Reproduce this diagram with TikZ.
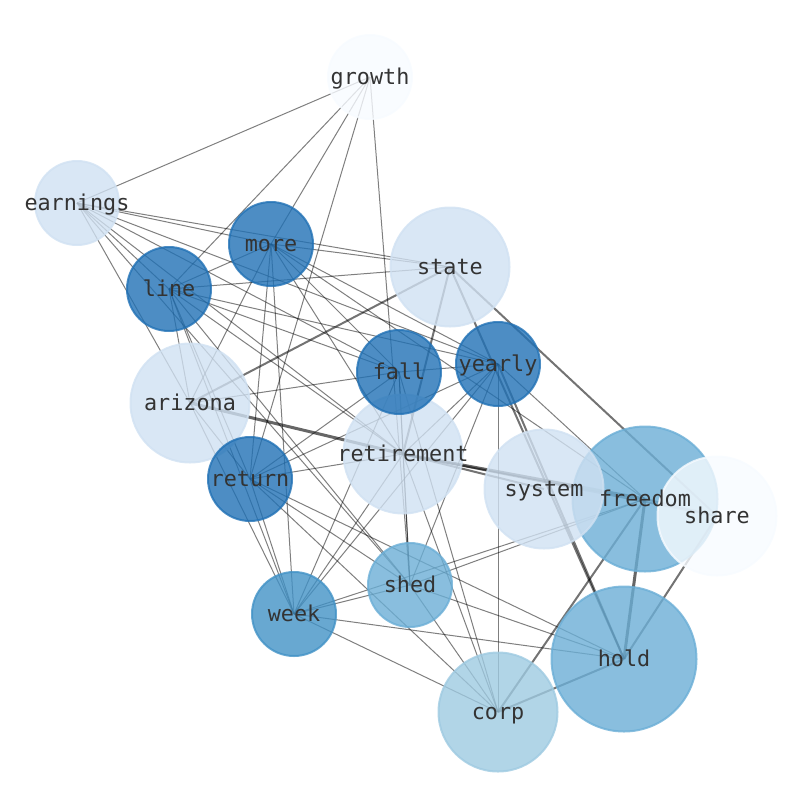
\documentclass[tikz,border=0pt]{standalone}
\usepackage{fontspec}
\setmonofont{DejaVu Sans Mono}
\pgfdeclarelayer{edges}
\pgfdeclarelayer{labels}
\pgfsetlayers{edges,main,labels}
\definecolor{cA}{HTML}{F7FBFF}
\definecolor{cB}{HTML}{D0E1F2}
\definecolor{cC}{HTML}{9ECAE1}
\definecolor{cD}{HTML}{6BAED6}
\definecolor{cE}{HTML}{4292C6}
\definecolor{cF}{HTML}{2171B5}
\definecolor{txt}{HTML}{333333}
\begin{document}
\begin{tikzpicture}[x=1pt,y=-1pt,
  wnode/.style={circle, inner sep=0pt, line width=2pt, fill opacity=0.8, draw opacity=0.8},
  rs/.style={wnode, minimum size=84pt},
  rm/.style={wnode, minimum size=119pt},
  rl/.style={wnode, minimum size=145pt},
  lbl/.style={inner sep=0pt, text=txt, text height=16pt, text depth=5pt, yshift=-2pt,
    font=\ttfamily\fontsize{21.8}{26}\selectfont},
  ed/.style={draw=black, draw opacity=0.5, line width=1pt},
  edb/.style={draw=black, draw opacity=0.55, line width=2pt},
  edc/.style={draw=black, draw opacity=0.6, line width=3pt}]
\useasboundingbox (0,0) rectangle (794,790);
% nodes (drawing order matters for overlaps)
\node[rl, fill=cD, draw=cD] (freedom) at (645,499) {};
\node[rl, fill=cD, draw=cD] (hold) at (624,659) {};
\node[rm, fill=cC, draw=cC] (corp) at (498,712) {};
\node[rm, fill=cB, draw=cB] (retirement) at (403,454) {};
\node[rm, fill=cB, draw=cB] (arizona) at (190,403) {};
\node[rm, fill=cB, draw=cB] (state) at (450,267) {};
\node[rm, fill=cB, draw=cB] (system) at (544,489) {};
\node[rm, fill=cA, draw=cA] (share) at (717,516) {};
\node[rs, fill=cA, draw=cA] (growth) at (370,77) {};
\node[rs, fill=cB, draw=cB] (earnings) at (77,203) {};
\node[rs, fill=cF, draw=cF] (more) at (271,244) {};
\node[rs, fill=cF, draw=cF] (line) at (169,289) {};
\node[rs, fill=cF, draw=cF] (fall) at (399,372) {};
\node[rs, fill=cF, draw=cF] (yearly) at (498,364) {};
\node[rs, fill=cF, draw=cF] (return) at (250,479) {};
\node[rs, fill=cD, draw=cD] (shed) at (410,585) {};
\node[rs, fill=cE, draw=cE] (week) at (294,614) {};
% labels on top
\begin{pgfonlayer}{labels}
\foreach \n in {growth, earnings, more, line, state, fall, yearly, arizona, retirement,
  return, system, freedom, share, shed, week, hold, corp}
  \node[lbl] (t-\n) at (\n.center) {\n};
\end{pgfonlayer}
% edges below
\begin{pgfonlayer}{edges}
\foreach \a/\b in {growth/earnings, growth/line, growth/more, growth/return, growth/shed,
  earnings/more, earnings/state, earnings/yearly, earnings/fall, earnings/line,
  earnings/retirement, earnings/arizona, earnings/shed,
  more/line, more/state, more/fall, more/yearly, more/retirement, more/arizona,
  more/return, more/week, more/freedom,
  line/state, line/fall, line/yearly, line/arizona, line/return, line/week, line/shed, line/retirement,
  fall/arizona, fall/yearly, fall/retirement, fall/return, fall/week, fall/shed, fall/corp,
  yearly/retirement, yearly/return, yearly/week, yearly/shed, yearly/corp, yearly/freedom,
  arizona/return, arizona/week,
  retirement/return, retirement/week, retirement/shed, retirement/corp,
  return/shed, return/corp, return/hold, return/week,
  shed/freedom, shed/hold, shed/corp, shed/week,
  week/freedom, week/hold, week/corp}
  \draw[ed] (\a.center) -- (\b.center);
\foreach \a/\b in {state/arizona, state/share, state/hold, state/retirement, yearly/hold,
  retirement/share, retirement/system, share/hold, freedom/share, hold/corp, freedom/corp}
  \draw[edb] (\a.center) -- (\b.center);
\foreach \a/\b in {arizona/retirement, retirement/freedom, freedom/hold}
  \draw[edc] (\a.center) -- (\b.center);
\end{pgfonlayer}
\end{tikzpicture}
\end{document}
